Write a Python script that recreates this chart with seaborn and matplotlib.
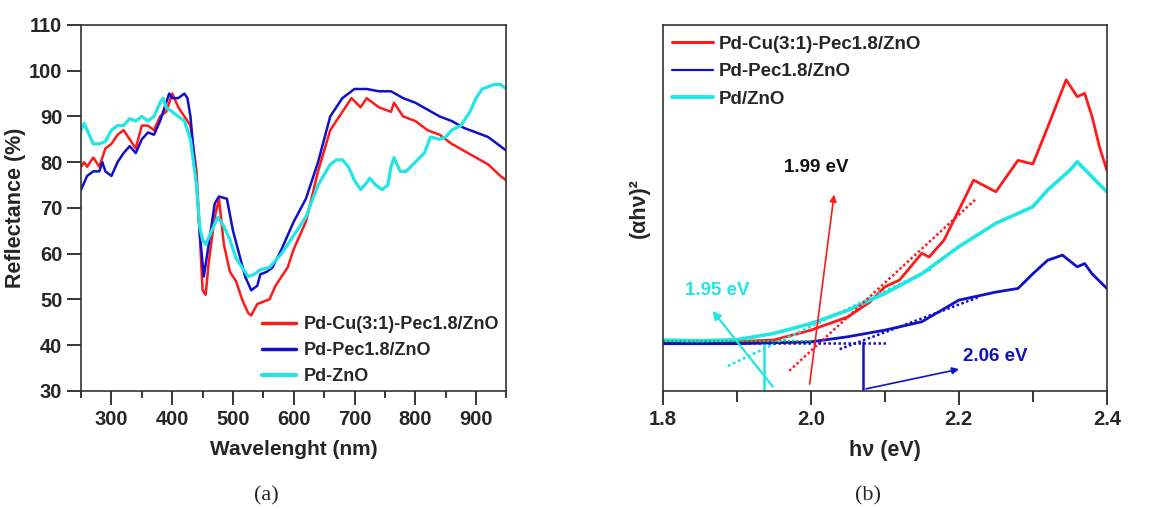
import numpy as np
import pandas as pd
import matplotlib
matplotlib.use("Agg")
import matplotlib.pyplot as plt
import seaborn as sns

# ---------------- Panel (a) data: reflectance ----------------
wl_red = [250, 255, 260, 270, 280, 290, 300, 310, 320, 330, 340, 350, 360, 370, 380, 390, 400, 410,
          420, 430, 440, 445, 450, 455, 460, 470, 477, 485, 495, 505, 515, 525, 530, 540, 550, 560,
          570, 580, 590, 600, 620, 640, 660, 680, 695, 710, 720, 740, 760, 765, 780, 800, 820, 840,
          860, 880, 900, 920, 940, 950]
refl_red = [79, 80, 79, 81, 79, 83, 84, 86, 87, 85, 83, 88, 88, 87, 90, 91, 95, 92,
            90, 88, 78, 65, 52, 51, 58, 68, 72, 62, 56, 54, 50, 47, 46.5, 49, 49.5, 50,
            53, 55, 57, 61, 67, 78, 87, 91, 94, 92, 94, 92, 91, 93, 90, 89, 87, 86,
            84, 82.5, 81, 79.5, 77, 76]

wl_blue = [250, 260, 270, 280, 285, 290, 300, 310, 320, 330, 340, 350, 360, 370, 380, 390, 395, 400,
           410, 420, 425, 430, 440, 445, 452, 460, 470, 477, 490, 500, 510, 520, 530, 540, 545, 555,
           565, 580, 600, 620, 640, 660, 680, 700, 720, 740, 760, 780, 800, 820, 840, 860, 880, 900,
           920, 940, 950]
refl_blue = [74, 77, 78, 78, 80, 78, 77, 80, 82, 83.5, 82, 85, 86.5, 86, 89, 93, 95, 94,
             94, 95, 94, 90, 75, 65, 55, 62, 71, 72.5, 72, 65, 60, 55, 52, 53, 55.5, 56,
             57, 61, 67, 72, 80, 90, 94, 96, 96, 95.5, 95.5, 94, 93, 91.5, 90, 89, 87.5, 86.5,
             85.5, 83.5, 82.5]

wl_cyan = [250, 255, 260, 270, 280, 290, 300, 310, 320, 330, 340, 350, 360, 370, 380, 385, 390, 400,
           410, 420, 430, 440, 445, 450, 455, 465, 475, 485, 495, 505, 515, 525, 535, 545, 560, 580,
           600, 620, 640, 660, 670, 680, 690, 700, 710, 720, 725, 735, 745, 755, 760, 765, 775, 785,
           800, 815, 825, 840, 850, 860, 875, 890, 900, 910, 930, 940, 950]
refl_cyan = [87, 88.5, 87, 84, 84, 84.5, 87, 88, 88, 89.5, 89, 90, 89, 90, 93, 94, 92, 91,
             90, 89, 85, 75, 66, 63, 62, 65, 68, 66, 63, 59, 57, 55, 55.5, 56.5, 57, 60,
             64, 68, 75, 79.5, 80.5, 80.5, 79, 76, 74, 75.5, 76.5, 75, 74, 75, 79, 81, 78, 78,
             80, 82, 85.5, 85, 85.5, 87, 88, 91, 94, 96, 97, 97, 96]

names_a = ["Pd-Cu(3:1)-Pec1.8/ZnO", "Pd-Pec1.8/ZnO", "Pd-ZnO"]

# ---------------- Panel (b) data: Tauc plot (arbitrary units) ----------------
ev_red = [1.80, 1.85, 1.90, 1.95, 2.00, 2.05, 2.08, 2.10, 2.12, 2.15, 2.16, 2.18, 2.20, 2.22, 2.25,
          2.28, 2.30, 2.32, 2.345, 2.36, 2.37, 2.38, 2.39, 2.40]
tauc_red = [13.4, 13.4, 13.5, 13.9, 16.6, 20.2, 24.3, 28.4, 30.3, 37.6, 36.6, 41.2, 49.4, 57.6, 54.4,
            63, 62, 72, 85, 80.4, 81.3, 75, 66.7, 60.3]

ev_blue = [1.80, 1.90, 2.00, 2.05, 2.10, 2.15, 2.20, 2.25, 2.28, 2.30, 2.32, 2.34, 2.36, 2.37, 2.38, 2.40]
tauc_blue = [12.9, 12.9, 13.4, 14.8, 16.6, 18.9, 24.8, 27, 28, 32, 35.7, 37.1, 33.9, 34.8, 32, 28]

ev_cyan = [1.80, 1.85, 1.90, 1.95, 2.00, 2.05, 2.08, 2.10, 2.15, 2.20, 2.25, 2.30, 2.32, 2.35, 2.36, 2.38, 2.40]
tauc_cyan = [13.9, 13.7, 14.0, 15.7, 18.4, 22.0, 24.8, 26.6, 32.0, 39.4, 45.8, 50.3, 54.9, 60.3, 62.6, 58.5, 54.4]

names_b = ["Pd-Cu(3:1)-Pec1.8/ZnO", "Pd-Pec1.8/ZnO", "Pd/ZnO"]

# tangent / marker lines (x in eV, y in arbitrary units)
tan_cyan_x = [1.888, 2.165]; tan_cyan_y = [6.8, 33.5]
tan_red_x = [1.971, 2.224];  tan_red_y = [5.5, 52.6]
tan_blue_x = [2.039, 2.228]; tan_blue_y = [11.4, 25.7]
base_blue_x = [1.80, 2.102]; base_blue_y = [13.2, 13.2]
base_green_x = [1.80, 2.00]; base_green_y = [13.6, 13.6]
gap_labels = ["1.95 eV", "1.99 eV", "2.06 eV"]

RED, BLUE, CYAN = "#ff1a1a", "#1010c8", "#22e5e5"

sns.set_style("ticks")
plt.rcParams["font.family"] = ["Liberation Sans", "DejaVu Sans"]
plt.rcParams["font.weight"] = "bold"

fig = plt.figure(figsize=(11.75, 5.09), dpi=100)
ax1 = fig.add_axes([0.069, 0.232, 0.362, 0.719])
ax2 = fig.add_axes([0.564, 0.232, 0.378, 0.719])

# ---- Panel (a)
df_a = pd.concat([
    pd.DataFrame({"wl": wl_red, "R": refl_red, "s": names_a[0]}),
    pd.DataFrame({"wl": wl_blue, "R": refl_blue, "s": names_a[1]}),
    pd.DataFrame({"wl": wl_cyan, "R": refl_cyan, "s": names_a[2]}),
])
pal_a = dict(zip(names_a, [RED, BLUE, CYAN]))
sns.lineplot(data=df_a, x="wl", y="R", hue="s", palette=pal_a, ax=ax1, sort=False,
             estimator=None, linewidth=1.8)
for ln, w in zip(ax1.get_lines(), [1.8, 1.8, 2.3]):
    ln.set_linewidth(w)
ax1.set_xlim(250, 950)
ax1.set_ylim(30, 110)
ax1.set_xticks([300, 400, 500, 600, 700, 800, 900])
ax1.set_xticks([250, 350, 450, 550, 650, 750, 850, 950], minor=True)
ax1.set_yticks(range(30, 111, 10))
ax1.tick_params(axis="both", which="major", direction="out", length=10, width=1.3,
                labelsize=14.5)
ax1.tick_params(axis="x", which="minor", direction="out", length=5, width=1.3)
for t in ax1.get_xticklabels() + ax1.get_yticklabels():
    t.set_fontweight("bold")
ax1.set_xlabel("Wavelenght (nm)", fontsize=15, fontweight="bold", labelpad=8)
ax1.set_ylabel("Reflectance (%)", fontsize=15.5, fontweight="bold", labelpad=2)
for sp in ax1.spines.values():
    sp.set_linewidth(1.2); sp.set_color("#333333")
leg1 = ax1.legend(loc="lower right", frameon=False, fontsize=13, handlelength=1.9,
                  handletextpad=0.4, labelspacing=0.5, borderaxespad=0.3,
                  bbox_to_anchor=(1.012, -0.019))
for h, w in zip(leg1.get_lines(), [2.5, 2.5, 3.0]):
    h.set_linewidth(w)
for t in leg1.get_texts():
    t.set_fontweight("bold")

# ---- Panel (b)
df_b = pd.concat([
    pd.DataFrame({"ev": ev_red, "T": tauc_red, "s": names_b[0]}),
    pd.DataFrame({"ev": ev_blue, "T": tauc_blue, "s": names_b[1]}),
    pd.DataFrame({"ev": ev_cyan, "T": tauc_cyan, "s": names_b[2]}),
])
pal_b = dict(zip(names_b, [RED, BLUE, CYAN]))
sns.lineplot(data=df_b, x="ev", y="T", hue="s", palette=pal_b, ax=ax2, sort=False,
             estimator=None, linewidth=2.0)
for ln, w in zip(ax2.get_lines(), [2.0, 2.0, 2.6]):
    ln.set_linewidth(w)

ax2.plot(tan_cyan_x, tan_cyan_y, color=CYAN, ls=(0, (1, 1)), lw=2)
ax2.plot(tan_red_x, tan_red_y, color=RED, ls=(0, (1, 1)), lw=1.8)
ax2.plot(tan_blue_x, tan_blue_y, color=BLUE, ls=(0, (1, 1)), lw=1.8)
ax2.plot(base_blue_x, base_blue_y, color=BLUE, ls=(0, (1, 1)), lw=1.8)
ax2.plot(base_green_x, base_green_y, color="#22bb44", ls=(0, (1, 1)), lw=1.5)

# vertical drop lines
ax2.plot([1.937, 1.937], [12.5, 0.6], color=CYAN, lw=1.8)
ax2.plot([2.070, 2.070], [13.4, 0.0], color=BLUE, lw=1.8)

# arrows
ax2.annotate("", xy=(1.865, 22.5), xytext=(1.951, 0.6),
             arrowprops=dict(arrowstyle="-|>", color=CYAN, lw=1.6, mutation_scale=12))
ax2.annotate("", xy=(2.032, 54.4), xytext=(1.998, 1.1),
             arrowprops=dict(arrowstyle="-|>", color=RED, lw=1.2, mutation_scale=10))
ax2.annotate("", xy=(2.204, 6.1), xytext=(2.071, 0.4),
             arrowprops=dict(arrowstyle="-|>", color=BLUE, lw=1.2, mutation_scale=10))

ax2.text(1.874, 27.5, gap_labels[0], color=CYAN, fontsize=13.5, fontweight="bold",
         ha="center", va="center")
ax2.text(2.008, 61.0, gap_labels[1], color="#111111", fontsize=13.5, fontweight="bold",
         ha="center", va="center")
ax2.text(2.249, 9.5, gap_labels[2], color=BLUE, fontsize=13.5, fontweight="bold",
         ha="center", va="center")

ax2.set_xlim(1.8, 2.4)
ax2.set_ylim(0, 100)
ax2.set_xticks([1.8, 2.0, 2.2, 2.4])
ax2.set_xticklabels(["1.8", "2.0", "2.2", "2.4"])
ax2.set_xticks([1.9, 2.1, 2.3], minor=True)
ax2.set_yticks([])
ax2.tick_params(axis="x", which="major", direction="out", length=10, width=1.3,
                labelsize=14.5)
ax2.tick_params(axis="x", which="minor", direction="out", length=8, width=1.3)
for t in ax2.get_xticklabels():
    t.set_fontweight("bold")
ax2.set_xlabel("hν (eV)", fontsize=15.5, fontweight="bold", labelpad=8)
ax2.set_ylabel("(αhν)²", fontsize=15.5, fontweight="bold", labelpad=9)
for sp in ax2.spines.values():
    sp.set_linewidth(1.2); sp.set_color("#333333")
leg2 = ax2.legend(loc="upper left", frameon=False, fontsize=13.5, handlelength=2.2,
                  handletextpad=0.3, labelspacing=0.55, borderaxespad=0.1,
                  bbox_to_anchor=(0.0, 0.996))
for h, w in zip(leg2.get_lines(), [2.2, 1.6, 2.8]):
    h.set_linewidth(w)
for t in leg2.get_texts():
    t.set_fontweight("bold")

# panel captions
fig.text(266 / 1175, 1 - 496 / 509, "(a)", ha="center", va="center", fontsize=16,
         family=["Liberation Serif", "DejaVu Serif"], fontweight="normal")
fig.text(868 / 1175, 1 - 496 / 509, "(b)", ha="center", va="center", fontsize=16,
         family=["Liberation Serif", "DejaVu Serif"], fontweight="normal")

fig.savefig("out.png", dpi=100)
